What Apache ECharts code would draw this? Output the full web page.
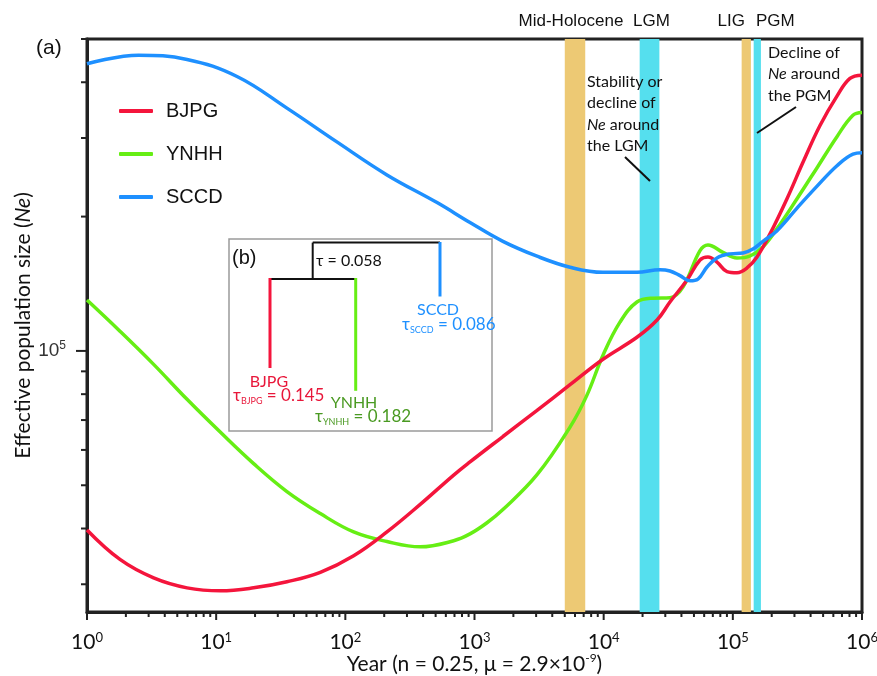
<!DOCTYPE html>
<html><head><meta charset="utf-8">
<script src="https://cdn.jsdelivr.net/npm/echarts@6/dist/echarts.min.js"></script>
<style>html,body{margin:0;padding:0;background:#fff}#main{width:877px;height:676px}</style>
</head><body><div id="main"></div>
<script>
// ---------------- data ----------------
const seriesNames = ['BJPG', 'YNHH', 'SCCD'];

const bjpgYears = [1, 1.8, 3.28, 5.95, 10.8, 19.5, 35.3, 64, 116, 210, 380, 690, 923, 1660, 3050, 5490, 9880, 18100, 25900, 32600, 44200, 55700, 64200, 75400, 90100, 107700, 128700, 153800, 194000, 262600, 349200, 473000, 640000, 807000, 1000000];
const bjpgNe    = [39700, 34100, 31000, 29450, 29000, 29450, 30400, 31900, 34750, 39300, 45300, 52700, 56400, 64300, 73600, 84000, 95800, 107300, 117300, 128700, 144200, 159900, 162400, 158200, 150600, 149700, 153400, 162400, 182900, 219300, 264600, 319900, 372300, 407900, 414800];

const ynhhYears = [1, 1.8, 3.28, 5.95, 10.8, 19.5, 35.3, 64, 116, 210, 380, 690, 923, 1250, 1660, 3050, 5490, 7380, 9880, 13370, 18100, 24100, 32600, 41100, 55700, 64200, 83900, 107700, 135900, 171000, 220000, 314000, 449000, 640000, 851000, 1000000];
const ynhhNe    = [130000, 110700, 93300, 77900, 65700, 55900, 48400, 43200, 39300, 37400, 36400, 37550, 38900, 41200, 44100, 52800, 67500, 79300, 97800, 116000, 128700, 131300, 131600, 139000, 167800, 172800, 166200, 161500, 163200, 171000, 188000, 219300, 257400, 302100, 337400, 342200];

const sccdYears = [1, 2.5, 5.95, 14.5, 35.3, 86, 210, 513, 923, 1660, 3050, 5490, 9880, 18100, 27300, 32600, 39000, 46600, 53700, 63100, 75400, 95100, 120000, 143000, 171000, 220000, 314000, 449000, 640000, 851000, 1000000];
const sccdNe    = [440000, 460000, 450000, 412000, 350000, 294000, 248000, 215000, 194000, 176000, 163000, 154000, 150000, 150000, 152000, 151000, 147500, 143600, 144900, 154200, 161600, 165000, 165800, 169200, 176000, 186000, 209000, 234000, 260000, 276000, 278000];

const bandNames = ['Mid-Holocene', 'LGM', 'LIG', 'PGM'];
const bandStart = [5000, 19000, 117000, 145000];
const bandEnd   = [7200, 27000, 138000, 165000];

const xTickExponents = [0, 1, 2, 3, 4, 5];   // decades with minor ticks 1..9
const yTickExponents = [4, 5];
const tickMultipliers = [1, 2, 3, 4, 5, 6, 7, 8, 9];
const xMin = 1, xMax = 1000000;
const yMin = 26000, yMax = 500000;

// ---------------- styles ----------------
const colors = { BJPG: '#F4153C', YNHH: '#66EE14', SCCD: '#1E90FF' };
const bandColors = ['#EDC974', '#55DFEE', '#EDC974', '#55DFEE'];
const bandLabelOffset = [-4, 2, -15, 18];
const ink = '#222';

function zip(xs, ys) { return xs.map((x, i) => [x, ys[i]]); }
function powLabel(v) {
  const l = Math.log10(v), e = Math.round(l);
  if (Math.abs(l - e) > 1e-6) return '';
  return '{b|10}{s|' + e + '}';
}

const chart = echarts.init(document.getElementById('main'));

function lineSeries(name, data, z) {
  return {
    type: 'line', name: name, data: data, smooth: 0.4, showSymbol: false, symbol: 'none',
    lineStyle: { color: colors[name], width: 3.5 }, itemStyle: { color: colors[name] }, z: z,
    clip: true
  };
}

const option = {
  animation: false,
  backgroundColor: '#fff',
  grid: { left: 87, right: 15, top: 39, bottom: 64, outerBoundsMode: 'none', containLabel: false, show: true, borderColor: ink, borderWidth: 3, backgroundColor: 'transparent' },
  legend: {
    data: seriesNames, orient: 'vertical', left: 114, top: 96, itemWidth: 34, itemHeight: 4, itemGap: 23,
    icon: 'roundRect',
    textStyle: { fontSize: 20, fontFamily: 'Liberation Sans', color: '#111', padding: [0, 0, 0, 8] }
  },
  xAxis: {
    type: 'log', logBase: 10, min: xMin, max: xMax,
    axisLine: { show: true, lineStyle: { color: ink, width: 3 } },
    axisTick: { show: false }, splitLine: { show: false },
    axisLabel: {
      margin: 19, showMinLabel: true, showMaxLabel: true, formatter: powLabel,
      rich: {
        b: { fontSize: 21, fontFamily: 'Lato', color: '#111', lineHeight: 22 },
        s: { fontSize: 13, fontFamily: 'Lato', color: '#111', lineHeight: 12, verticalAlign: 'top' }
      }
    },
    name: '{a|Year (n = 0.25, μ = 2.9×10}{s|-9}{a|)}',
    nameLocation: 'middle', nameGap: 40, nameMoveOverlap: false,
    nameTextStyle: {
      rich: {
        a: { fontSize: 21, fontFamily: 'Lato', color: '#111', lineHeight: 24 },
        s: { fontSize: 12, fontFamily: 'Lato', color: '#111', lineHeight: 12, verticalAlign: 'top' }
      }
    }
  },
  yAxis: {
    type: 'log', logBase: 10, min: yMin, max: yMax,
    axisLine: { show: true, lineStyle: { color: ink, width: 3 } },
    axisTick: { show: false }, splitLine: { show: false },
    axisLabel: {
      margin: 21, showMinLabel: true, showMaxLabel: true, formatter: powLabel,
      rich: {
        b: { fontSize: 19, fontFamily: 'Liberation Sans', color: '#333', lineHeight: 22 },
        s: { fontSize: 12, fontFamily: 'Liberation Sans', color: '#333', lineHeight: 12, verticalAlign: 'top' }
      }
    },
    name: '{a|Effective population size (}{i|Ne}{a|)}',
    nameLocation: 'middle', nameGap: 53, nameMoveOverlap: false,
    nameTextStyle: {
      rich: {
        a: { fontSize: 21, fontFamily: 'Lato', color: '#111' },
        i: { fontSize: 21, fontFamily: 'Lato', color: '#111', fontStyle: 'italic' }
      }
    }
  },
  series: [
    {
      type: 'line', name: 'bands', data: [], z: 1, silent: true,
      markArea: {
        silent: true,
        itemStyle: { opacity: 1 },
        label: { show: true, position: 'top', distance: 9, color: '#111', fontSize: 17, fontFamily: 'Liberation Sans' },
        data: bandNames.map((n, i) => [
          { xAxis: bandStart[i], name: n, itemStyle: { color: bandColors[i], opacity: 1 }, label: { offset: [bandLabelOffset[i], 0] } },
          { xAxis: bandEnd[i] }
        ])
      }
    },
    lineSeries('YNHH', zip(ynhhYears, ynhhNe), 3),
    lineSeries('BJPG', zip(bjpgYears, bjpgNe), 4),
    lineSeries('SCCD', zip(sccdYears, sccdNe), 5)
  ]
};
chart.setOption(option);

// ---------------- ticks & annotations ----------------
function seg(x1, y1, x2, y2, color, w) {
  return { type: 'line', silent: true, z: 50, shape: { x1: x1, y1: y1, x2: x2, y2: y2 }, style: { stroke: color, lineWidth: w } };
}
function txt(x, y, text, opts) {
  return {
    type: 'text', silent: true, z: 60, x: x, y: y,
    style: Object.assign({ text: text, fill: '#111', fontSize: 16, fontFamily: 'Lato', align: 'left', verticalAlign: 'middle' }, opts || {})
  };
}

const els = [];
const yBottom = chart.convertToPixel({ yAxisIndex: 0 }, yMin);
const xLeft = chart.convertToPixel({ xAxisIndex: 0 }, xMin);
xTickExponents.forEach(e => tickMultipliers.forEach(m => {
  const px = chart.convertToPixel({ xAxisIndex: 0 }, m * Math.pow(10, e));
  els.push(seg(px, yBottom, px, yBottom + (m === 1 ? 8 : 5), ink, 2));
}));
{
  const px = chart.convertToPixel({ xAxisIndex: 0 }, xMax);
  els.push(seg(px, yBottom, px, yBottom + 8, ink, 2));
}
yTickExponents.forEach(e => tickMultipliers.forEach(m => {
  const v = m * Math.pow(10, e);
  if (v < yMin || v > yMax) return;
  const py = chart.convertToPixel({ yAxisIndex: 0 }, v);
  els.push(seg(xLeft, py, xLeft - (m === 1 ? 11 : 6), py, ink, 2));
}));

// panel letter
els.push(txt(36, 48, '(a)', { fontSize: 21, fontFamily: 'Liberation Sans' }));

// annotations
const annRich = {
  n: { fontSize: 16, fontFamily: 'Lato', fill: '#111', lineHeight: 21.5 },
  i: { fontSize: 16, fontFamily: 'Lato', fill: '#111', fontStyle: 'italic', lineHeight: 21.5 }
};
els.push(txt(587, 71, '{n|Stability or}\n{n|decline of}\n{i|Ne}{n| around}\n{n|the LGM}', { verticalAlign: 'top', lineHeight: 21.5, rich: annRich }));
els.push(seg(625, 157, 650, 181, '#111', 2));
els.push(txt(768, 42, '{n|Decline of}\n{i|Ne}{n| around}\n{n|the PGM}', { verticalAlign: 'top', lineHeight: 21.5, rich: annRich }));
els.push(seg(796, 107, 757, 133, '#111', 2));

// inset (b)
els.push({ type: 'rect', silent: true, z: 40, shape: { x: 229, y: 239, width: 263, height: 192 }, style: { fill: 'rgba(255,255,255,0)', stroke: '#9a9a9a', lineWidth: 1.5 } });
els.push(seg(312.7, 242.6, 440, 242.6, '#111', 2));
els.push(seg(312.7, 242.6, 312.7, 279, '#111', 2));
els.push(seg(270, 279, 355.7, 279, '#111', 2));
els.push(seg(440, 242, 440, 296.5, colors.SCCD, 3));
els.push(seg(270, 278, 270, 368, colors.BJPG, 3));
els.push(seg(355.7, 278, 355.7, 390.8, colors.YNHH, 3));
els.push(txt(232, 258, '(b)', { fontSize: 20, fontFamily: 'Liberation Sans' }));
els.push(txt(316, 261, 'τ = 0.058', { fontSize: 16 }));

const greenText = '#4A9A22';
const redText = '#E8173A';
const blueText = '#1E90FF';
function tauRich(c) {
  return {
    t: { fontSize: 17, fontFamily: 'Lato', fill: c, lineHeight: 20 },
    s: { fontSize: 9, fontFamily: 'Lato', fill: c, lineHeight: 9, verticalAlign: 'bottom' }
  };
}
els.push(txt(438, 309.5, 'SCCD', { fontSize: 16, fill: blueText, align: 'center' }));
els.push(txt(402, 325, '{t|τ}{s|SCCD}{t| = 0.086}', { rich: tauRich(blueText) }));
els.push(txt(269, 381.6, 'BJPG', { fontSize: 16, fill: redText, align: 'center' }));
els.push(txt(233, 395.5, '{t|τ}{s|BJPG}{t| = 0.145}', { rich: tauRich(redText) }));
els.push(txt(354, 403, 'YNHH', { fontSize: 16, fill: greenText, align: 'center' }));
els.push(txt(315, 417, '{t|τ}{s|YNHH}{t| = 0.182}', { rich: tauRich(greenText) }));

chart.setOption({ graphic: els });
</script>
</body></html>
